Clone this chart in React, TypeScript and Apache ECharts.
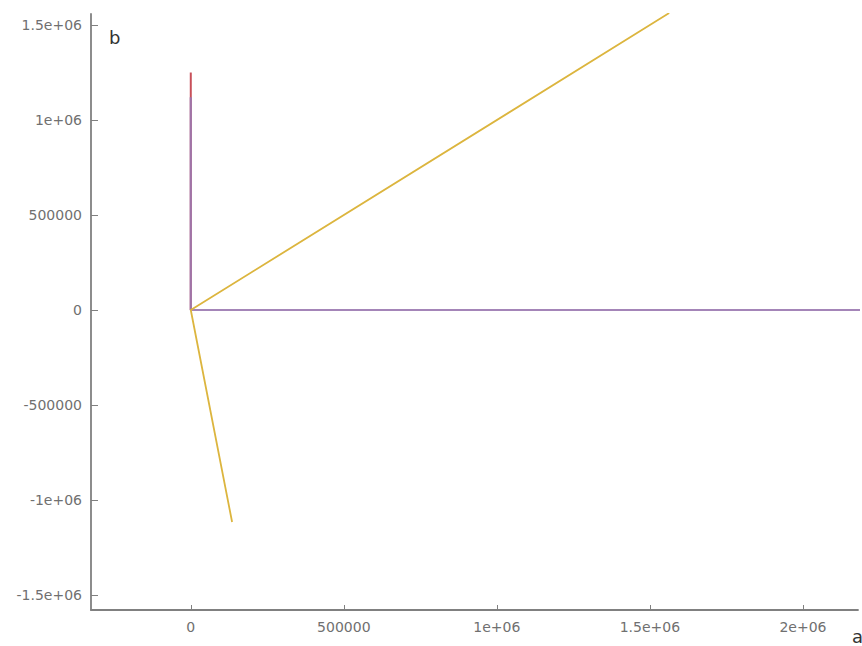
import React, { useEffect, useRef } from "react";
import * as echarts from "echarts";

const xTicks = [0, 500000, 1000000, 1500000, 2000000];
const yTicks = [-1500000, -1000000, -500000, 0, 500000, 1000000, 1500000];
const xRange = [-326000, 2180000];
const yRange = [-1579000, 1558000];

const yellowSeries: [number, number][] = [
  [135000, -1116000],
  [0, 0],
  [1563000, 1563000],
];
const redSeries: [number, number][] = [
  [0, 0],
  [0, 1250000],
];
const purpleSeries: [number, number][] = [
  [0, 1120000],
  [0, 0],
  [2200000, 0],
];

const fmt = (v: number) => {
  const a = Math.abs(v);
  if (a >= 1000000) {
    const m = v / 1000000;
    return `${m}e+06`;
  }
  return `${v}`;
};

export default function App() {
  const ref = useRef<HTMLDivElement>(null);
  useEffect(() => {
    const chart = echarts.init(ref.current!, null, { renderer: "svg" });
    const axisCommon = {
      type: "value" as const,
      splitLine: { show: false },
      axisLine: { show: true, onZero: false, lineStyle: { color: "#808080", width: 1.8 } },
      axisTick: { show: true, inside: true, length: 5, lineStyle: { color: "#808080", width: 1 } },
      axisLabel: {
        color: "#707070",
        fontFamily: "DejaVu Sans",
        fontSize: 14,
        formatter: fmt,
      },
    };
    chart.setOption({
      animation: false,
      backgroundColor: "#fff",
      grid: { left: 91, right: 4, top: 14, bottom: 36, containLabel: false },
      xAxis: {
        ...axisCommon,
        min: xRange[0],
        max: xRange[1],
        axisTick: { ...axisCommon.axisTick, customValues: xTicks },
        axisLabel: { ...axisCommon.axisLabel, customValues: xTicks, margin: 10 },
      },
      yAxis: {
        ...axisCommon,
        min: yRange[0],
        max: yRange[1],
        axisTick: { ...axisCommon.axisTick, length: 7, customValues: yTicks },
        axisLabel: { ...axisCommon.axisLabel, customValues: yTicks, margin: 9 },
      },
      graphic: [
        {
          type: "text",
          left: 109,
          top: 28,
          style: { text: "b", fontFamily: "DejaVu Sans", fontSize: 18, fill: "#333" },
        },
        {
          type: "text",
          left: 852,
          top: 627,
          style: { text: "a", fontFamily: "DejaVu Sans", fontSize: 18, fill: "#333" },
        },
      ],
      series: [
        {
          type: "line",
          data: redSeries,
          symbol: "none",
          clip: true,
          lineStyle: { color: "#c8505a", width: 2 },
        },
        {
          type: "line",
          data: purpleSeries,
          symbol: "none",
          clip: true,
          lineStyle: { color: "#9a78b0", width: 2.2, opacity: 0.9 },
        },
        {
          type: "line",
          data: yellowSeries,
          symbol: "none",
          clip: true,
          lineStyle: { color: "#dcb53e", width: 1.8 },
        },
      ],
    });
    return () => chart.dispose();
  }, []);
  return (
    <div
      ref={ref}
      style={{ position: "fixed", left: 0, top: 0, width: 862, height: 646 }}
    />
  );
}
